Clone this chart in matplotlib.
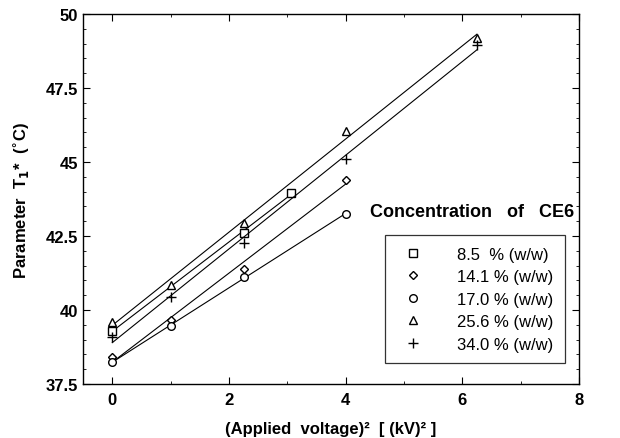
import numpy as np
import matplotlib.pyplot as plt
from matplotlib.ticker import MultipleLocator

plt.rcParams['font.family'] = ['Liberation Sans', 'DejaVu Sans']
plt.rcParams['font.weight'] = 'bold'

# (Applied voltage)^2 in (kV)^2
v2_85 = [0, 2.25, 3.06]
t_85 = [39.3, 42.6, 43.95]

v2_141 = [0, 1, 2.25, 4]
t_141 = [38.4, 39.65, 41.4, 44.4]

v2_170 = [0, 1, 2.25, 4]
t_170 = [38.25, 39.45, 41.1, 43.25]

v2_256 = [0, 1, 2.25, 4, 6.25]
t_256 = [39.6, 40.85, 42.95, 46.05, 49.2]

v2_340 = [0, 1, 2.25, 4, 6.25]
t_340 = [39.1, 40.45, 42.25, 45.1, 48.95]

series = [
    (v2_85, t_85, 's', 5.5, '8.5  % (w/w)'),
    (v2_141, t_141, 'D', 4.0, '14.1 % (w/w)'),
    (v2_170, t_170, 'o', 5.5, '17.0 % (w/w)'),
    (v2_256, t_256, '^', 6.0, '25.6 % (w/w)'),
    (v2_340, t_340, '+', 7.0, '34.0 % (w/w)'),
]

fig = plt.figure(figsize=(6.2, 4.39), dpi=100)
ax = fig.add_axes([0.134, 0.123, 0.8, 0.843])

handles = []
for x, y, m, ms, lab in series:
    x = np.array(x)
    y = np.array(y)
    # linear fit line
    k, b = np.polyfit(x, y, 1)
    xf = np.array([0, x.max()])
    ax.plot(xf, k * xf + b, color='black', linewidth=0.8)
    h, = ax.plot(x, y, linestyle='none', marker=m, markersize=ms,
                 markerfacecolor='white', markeredgecolor='black',
                 markeredgewidth=1.0, label=lab)
    handles.append(h)

ax.set_xlim(-0.5, 8)
ax.set_ylim(37.5, 50)
ax.set_xticks([0, 2, 4, 6, 8])
ax.set_yticks([37.5, 40, 42.5, 45, 47.5, 50])
ax.set_yticklabels(['37.5', '40', '42.5', '45', '47.5', '50'])
ax.xaxis.set_minor_locator(MultipleLocator(1))
ax.yaxis.set_minor_locator(MultipleLocator(0.5))
ax.tick_params(which='both', direction='in', top=True, right=True, labelsize=12)
ax.tick_params(which='major', length=5, width=0.8)
ax.tick_params(which='minor', length=2.5, width=0.6)
ax.tick_params(axis='x', pad=6)
for s in ax.spines.values():
    s.set_linewidth(1.0)

ax.set_xlabel('(Applied  voltage)\u00b2  [ (kV)\u00b2 ]',
              fontsize=12, fontweight='bold', labelpad=10)
ax.set_ylabel(r'Parameter  T$_{\mathbf{1}}$*  ($^{\circ}$C)', fontsize=12,
              fontweight='bold', labelpad=10)

ax.text(0.784, 0.465, 'Concentration   of   CE6', transform=ax.transAxes,
        ha='center', va='center', fontsize=13, fontweight='bold')

leg = ax.legend(handles=handles, loc='upper left', bbox_to_anchor=(0.609, 0.403),
                frameon=True, fancybox=False, edgecolor='black', fontsize=12,
                handlelength=2.0, handletextpad=1.6, borderpad=0.7,
                labelspacing=0.45, borderaxespad=0)
leg.get_frame().set_linewidth(0.9)
for t in leg.get_texts():
    t.set_fontweight('normal')

plt.savefig('out.png', dpi=100)
plt.close()
